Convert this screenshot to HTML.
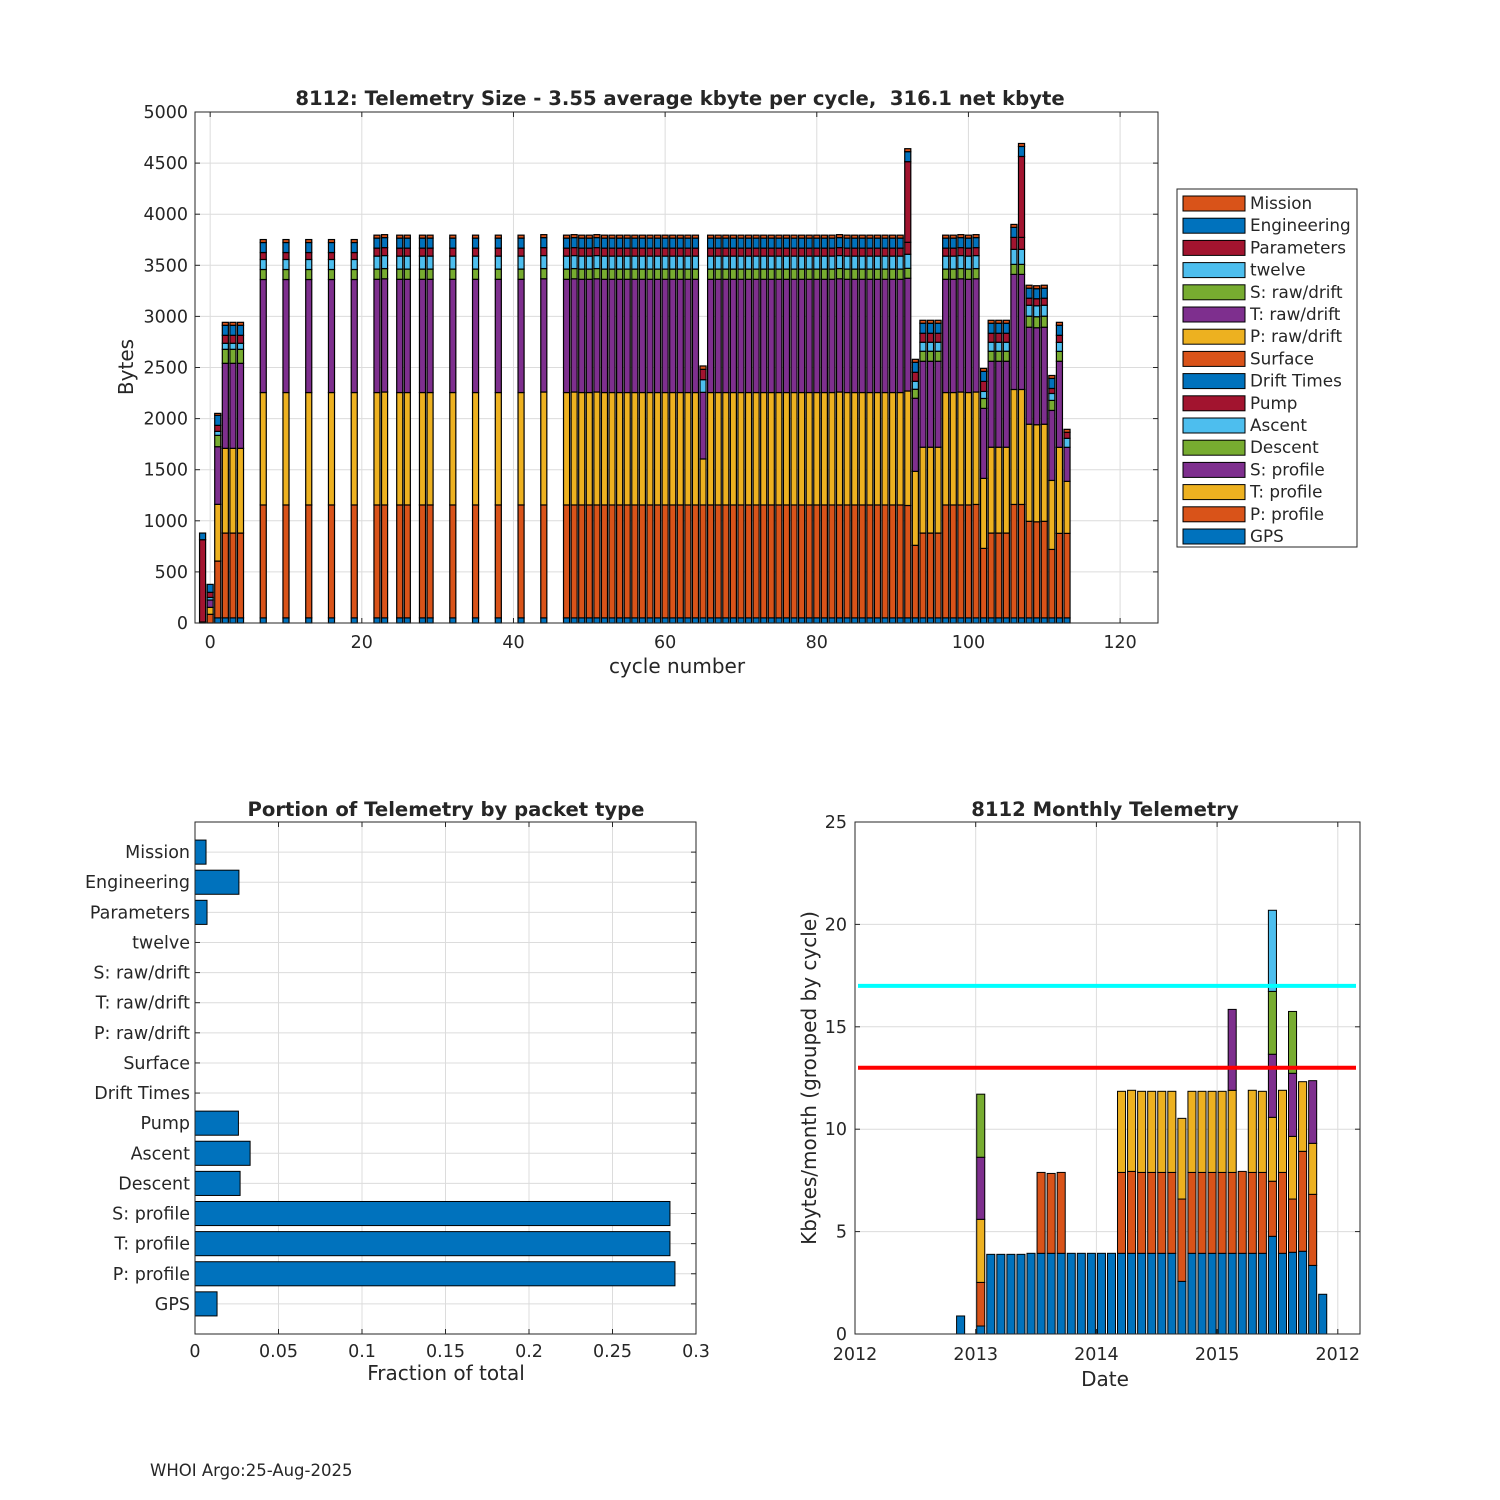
<!DOCTYPE html>
<html><head><meta charset="utf-8"><style>
html,body{margin:0;padding:0;background:#fff}
svg{display:block}
text{font-family:"DejaVu Sans","Liberation Sans",sans-serif;fill:#262626}
</style></head><body>
<svg id="fig" width="1500" height="1500" viewBox="0 0 1500 1500" xmlns="http://www.w3.org/2000/svg">
<rect width="1500" height="1500" fill="#fff"/>
<g id="top"></g>
<g id="bl"></g>
<g id="br"></g>
<text x="150" y="1476" font-size="16.5">WHOI Argo:25-Aug-2025</text>
</svg>
<script>
// ---------- TOP CHART DATA ----------
const cycles = [-1,0,1,2,3,4, 7,10,13,16,19, 22,23,25,26,28,29,32,35,38,41,44,
47,48,49,50,51,52,53,54,55,56,57,58,59,60,61,62,63,64, 65,
66,67,68,69,70,71,72,73,74,75,76,77,78,79,80,81,82,83,84,85,86,87,88,89,90,91,
92,93,94,95,96,97,98,99,100,101,102,103,104,105,106,107,108,109,110,111,112,113];
const gpsVals = [10,0,50,50,50,50, 50,50,50,50,50, 50,50,50,50,50,50,50,50,50,50,50,
50,50,50,50,50,50,50,50,50,50,50,50,50,50,50,50,50,50, 50,
50,50,50,50,50,50,50,50,50,50,50,50,50,50,50,50,50,50,50,50,50,50,50,50,50,50,
50,50,50,50,50,50,50,50,50,50,50,50,50,50,50,50,50,50,50,50,50,50];
const pProfile = [0,85,556,830,830,830, 1105,1105,1105,1105,1105, 1105,1105,1105,1105,1105,1105,1105,1105,1105,1105,1105,
1105,1105,1105,1105,1105,1105,1105,1105,1105,1105,1105,1105,1105,1105,1105,1105,1105,1105, 1105,
1105,1105,1105,1105,1105,1105,1105,1105,1105,1105,1105,1105,1105,1105,1105,1105,1105,1105,1105,1105,1105,1105,1105,1105,1105,1105,
1100,710,830,830,830,1105,1105,1105,1105,1110,680,830,830,830,1110,1110,945,940,945,670,827,827];
const tProfile = [0,68,555,829,829,829, 1100,1100,1100,1100,1100, 1100,1105,1100,1100,1100,1100,1100,1100,1100,1100,1105,
1100,1105,1100,1100,1105,1100,1100,1100,1100,1100,1100,1100,1100,1100,1100,1100,1100,1100, 450,
1100,1100,1100,1100,1100,1100,1100,1100,1100,1100,1100,1100,1100,1100,1100,1100,1100,1105,1100,1100,1100,1100,1100,1100,1100,1100,
1120,724,840,840,840,1100,1100,1105,1100,1100,685,840,840,840,1125,1125,950,950,950,675,842,509];
const sProfile = [0,72,564,832,832,832, 1106,1106,1106,1106,1106, 1108,1108,1108,1108,1108,1108,1108,1108,1108,1108,1108,
1108,1108,1108,1108,1108,1108,1108,1108,1108,1108,1108,1108,1108,1108,1108,1108,1108,1108, 652,
1108,1108,1108,1108,1108,1108,1108,1108,1108,1108,1108,1108,1108,1108,1108,1108,1108,1108,1108,1108,1108,1108,1108,1108,1108,1108,
1103,715,841,841,841,1108,1108,1108,1108,1108,685,841,841,841,1126,1126,949,949,949,685,842,333];
const descentVals = [0,0,111,137,137,137, 98,98,98,98,98, 100,100,100,100,100,100,100,100,100,100,100,
100,100,100,100,100,100,100,100,100,100,100,100,100,100,100,100,100,100, 0,
100,100,100,100,100,100,100,100,100,100,100,100,100,100,100,100,100,100,100,100,100,100,100,100,100,100,
97,88,98,98,98,100,100,100,100,100,97,98,98,98,98,98,108,108,108,98,97,0];
const ascentVals = [0,25,39,59,59,59, 98,98,98,98,98, 127,127,127,127,127,127,127,127,127,127,127,
127,127,127,127,127,127,127,127,127,127,127,127,127,127,127,127,127,127, 124,
127,127,127,127,127,127,127,127,127,127,127,127,127,127,127,127,127,127,127,127,127,127,127,127,127,127,
138,78,88,88,88,127,127,127,127,127,69,88,88,88,147,147,107,107,107,68,88,88];
const pumpVals = [0,50,59,78,78,78, 68,68,68,68,68, 78,78,78,78,78,78,78,78,78,78,78,
78,78,78,78,78,78,78,78,78,78,78,78,78,78,78,78,78,78, 101,
78,78,78,78,78,78,78,78,78,78,78,78,78,78,78,78,78,78,78,78,78,78,78,78,78,78,
117,88,88,88,88,78,78,78,78,78,98,88,88,88,117,117,69,69,69,49,69,59];
const paramVals = [805,0,0,0,0,0, 0,0,0,0,0, 0,0,0,0,0,0,0,0,0,0,0,
0,0,0,0,0,0,0,0,0,0,0,0,0,0,0,0,0,0, 0,
0,0,0,0,0,0,0,0,0,0,0,0,0,0,0,0,0,0,0,0,0,0,0,0,0,0,
789,0,0,0,0,0,0,0,0,0,0,0,0,0,0,792,0,0,0,0,0,0];
const engVals = [65,78,98,98,98,98, 98,98,98,98,98, 98,98,98,98,98,98,98,98,98,98,98,
98,98,98,98,98,98,98,98,98,98,98,98,98,98,98,98,98,98, 0,
98,98,98,98,98,98,98,98,98,98,98,98,98,98,98,98,98,98,98,98,98,98,98,98,98,98,
98,98,98,98,98,98,98,98,98,98,98,98,98,98,98,98,98,98,98,98,98,0];
const missionVals = [0,0,19,29,29,29, 29,29,29,29,29, 29,29,29,29,29,29,29,29,29,29,29,
29,29,29,29,29,29,29,29,29,29,29,29,29,29,29,29,29,29, 33,
29,29,29,29,29,29,29,29,29,29,29,29,29,29,29,29,29,29,29,29,29,29,29,29,29,29,
29,29,29,29,29,29,29,29,29,29,29,29,29,29,29,29,29,29,29,29,29,29];
const seriesNames = ['GPS','P: profile','T: profile','S: profile','Descent','Ascent','Pump','Drift Times','Surface','P: raw/drift','T: raw/drift','S: raw/drift','twelve','Parameters','Engineering','Mission'];
const seriesVals = [gpsVals,pProfile,tProfile,sProfile,descentVals,ascentVals,pumpVals,[],[],[],[],[],[],paramVals,engVals,missionVals];
const yTicksTop = [0,500,1000,1500,2000,2500,3000,3500,4000,4500,5000];
const xTicksTop = [0,20,40,60,80,100,120];

// ---------- BOTTOM LEFT DATA ----------
const packetCats = ['GPS','P: profile','T: profile','S: profile','Descent','Ascent','Pump','Drift Times','Surface','P: raw/drift','T: raw/drift','S: raw/drift','twelve','Parameters','Engineering','Mission'];
const packetFractions = [0.0132,0.2874,0.2844,0.2844,0.027,0.033,0.026,0,0,0,0,0,0,0.0072,0.0263,0.0066];
const xTicksBL = [0,0.05,0.1,0.15,0.2,0.25,0.3];
const xTickLabelsBL = ['0','0.05','0.1','0.15','0.2','0.25','0.3'];

// ---------- BOTTOM RIGHT DATA ----------
const months = [10,12,13,14,15,16,17,18,19,20,21,22,23,24,25,26,27,28,29,30,31,32,33,34,35,36,37,38,39,40,41,42,43,44,45,46];
const mBlue   = [0.88,0.39,3.89,3.89,3.89,3.89,3.94,3.94,3.94,3.94,3.94,3.94,3.94,3.94,3.94,3.94,3.94,3.94,3.94,3.94,3.94,2.57,3.94,3.94,3.94,3.94,3.94,3.94,3.94,3.94,4.77,3.94,3.99,4.04,3.35,1.94];
const mOrange = [0,2.13,0,0,0,0,0,3.95,3.90,3.95,0,0,0,0,0,3.95,4.0,3.95,3.95,3.95,3.95,4.02,3.95,3.95,3.95,3.95,3.95,4.0,3.95,3.95,2.69,3.95,2.60,4.88,3.47,0];
const mYellow = [0,3.08,0,0,0,0,0,0,0,0,0,0,0,0,0,3.96,3.96,3.96,3.96,3.96,3.96,3.94,3.96,3.96,3.96,3.96,4.01,0,4.01,3.96,3.12,4.01,3.06,3.40,2.49,0];
const mPurple = [0,3.03,0,0,0,0,0,0,0,0,0,0,0,0,0,0,0,0,0,0,0,0,0,0,0,0,3.95,0,0,0,3.08,0,3.08,0,3.06,0];
const mGreen  = [0,3.08,0,0,0,0,0,0,0,0,0,0,0,0,0,0,0,0,0,0,0,0,0,0,0,0,0,0,0,0,3.07,0,3.02,0,0,0];
const mLight  = [0,0,0,0,0,0,0,0,0,0,0,0,0,0,0,0,0,0,0,0,0,0,0,0,0,0,0,0,0,0,3.96,0,0,0,0,0];
const thresholds = [17,13];
const yTicksBR = [0,5,10,15,20,25];
const xTickMonthsBR = [0,12,24,36,48];
const xTickLabelsBR = ['2012','2013','2014','2015','2012'];

const COLORS = ['#0072BD','#D95319','#EDB120','#7E2F8E','#77AC30','#4DBEEE','#A2142F'];
const TICK=17.5, AXT=20, TTL=19.6;
const NS='http://www.w3.org/2000/svg';
function mk(parent,tag,attrs,txt){const e=document.createElementNS(NS,tag);for(const k in attrs)e.setAttribute(k,attrs[k]);if(txt!==undefined)e.textContent=txt;parent.appendChild(e);return e;}

// ================= TOP CHART =================
(function(){
const g=document.getElementById('top');
const L=195,R=1158,T=112,B=623;
const xS=c=>L+(c+2)*(R-L)/127;
const yS=v=>B-v*(B-T)/5000;
yTicksTop.forEach(v=>{
  const y=yS(v);
  const gl=mk(g,'line',{x1:L,x2:R,y1:y,y2:y,stroke:'#dcdcdc','stroke-width':1});
  
  
  const t=mk(g,'text',{x:L-7,y:y+6,'font-size':TICK,'text-anchor':'end'},String(v));
  
  
  mk(g,'line',{x1:L,x2:L+5,y1:y,y2:y,stroke:'#262626'});
  mk(g,'line',{x1:R,x2:R-5,y1:y,y2:y,stroke:'#262626'});
});
xTicksTop.forEach(v=>{
  const x=xS(v);
  const gl=mk(g,'line',{x1:x,x2:x,y1:T,y2:B,stroke:'#dcdcdc','stroke-width':1});
  
  
  const t=mk(g,'text',{x:x,y:B+25,'font-size':TICK,'text-anchor':'middle'},String(v));
  
  
  mk(g,'line',{x1:x,x2:x,y1:B,y2:B-5,stroke:'#262626'});
  mk(g,'line',{x1:x,x2:x,y1:T,y2:T+5,stroke:'#262626'});
});
const bw=(R-L)/127*0.8;
cycles.forEach((c,i)=>{
  let cum=0;
  seriesVals.forEach((arr,s)=>{
    const h=arr[i]||0;
    if(h<=0)return;
    const r=mk(g,'rect',{x:xS(c)-bw/2,y:yS(cum+h),width:bw,height:yS(cum)-yS(cum+h),fill:COLORS[s%7],stroke:'#000','stroke-width':1.2});
    
    
    cum+=h;
  });
});
const box=mk(g,'rect',{x:L,y:T,width:R-L,height:B-T,fill:'none',stroke:'#262626','stroke-width':1});


const ti=mk(g,'text',{x:680,y:105,'font-size':TTL,'font-weight':'bold','text-anchor':'middle','xml:space':'preserve'},'8112: Telemetry Size - 3.55 average kbyte per cycle,\u00a0 316.1 net kbyte');


const xl=mk(g,'text',{x:677,y:673,'font-size':AXT,'text-anchor':'middle'},'cycle number');


const yl=mk(g,'text',{x:0,y:0,'font-size':AXT,'text-anchor':'middle',transform:'translate(133,367) rotate(-90)'},'Bytes');


// legend
const lg=mk(g,'g',{});


mk(lg,'rect',{x:1177,y:189,width:180,height:358,fill:'#fff',stroke:'#262626','stroke-width':1});
for(let k=0;k<16;k++){
  const s=15-k;
  const cy=203+k*22.2;
  const e=mk(lg,'g',{});
  
  
  mk(e,'rect',{x:1183,y:cy-7,width:62,height:15,fill:COLORS[s%7],stroke:'#000','stroke-width':1});
  mk(e,'text',{x:1250,y:cy+6,'font-size':16.8},seriesNames[s]);
}
})();

// ================= BOTTOM LEFT =================
(function(){
const g=document.getElementById('bl');
const L=195,R=696,T=822,B=1334;
const xS=v=>L+v*(R-L)/0.3;
const yS=k=>B-k*(B-T)/17;
xTicksBL.forEach((v,i)=>{
  const x=xS(v);
  const gl=mk(g,'line',{x1:x,x2:x,y1:T,y2:B,stroke:'#dcdcdc'});
  
  
  mk(g,'line',{x1:x,x2:x,y1:B,y2:B-5,stroke:'#262626'});
  mk(g,'line',{x1:x,x2:x,y1:T,y2:T+5,stroke:'#262626'});
  const t=mk(g,'text',{x:x,y:B+23,'font-size':TICK,'text-anchor':'middle'},xTickLabelsBL[i]);
  
  
});
packetCats.forEach((c,i)=>{
  const y=yS(i+1);
  const gl=mk(g,'line',{x1:L,x2:R,y1:y,y2:y,stroke:'#dcdcdc'});
  
  
  mk(g,'line',{x1:L,x2:L+5,y1:y,y2:y,stroke:'#262626'});
  mk(g,'line',{x1:R,x2:R-5,y1:y,y2:y,stroke:'#262626'});
  const t=mk(g,'text',{x:L-5,y:y+6,'font-size':TICK,'text-anchor':'end'},c);
  
  
  const v=packetFractions[i];
  if(v>0){
    const h=(B-T)/17*0.8;
    const r=mk(g,'rect',{x:xS(0),y:y-h/2,width:xS(v)-xS(0),height:h,fill:'#0072BD',stroke:'#000','stroke-width':1});
    
    
  }
});
const box=mk(g,'rect',{x:L,y:T,width:R-L,height:B-T,fill:'none',stroke:'#262626'});


const ti=mk(g,'text',{x:446,y:816,'font-size':TTL,'font-weight':'bold','text-anchor':'middle'},'Portion of Telemetry by packet type');


const xl=mk(g,'text',{x:446,y:1380,'font-size':AXT,'text-anchor':'middle'},'Fraction of total');


})();

// ================= BOTTOM RIGHT =================
(function(){
const g=document.getElementById('br');
const L=855,R=1360,T=822,B=1334;
const mw=120.7/12;
const xS=m=>L+m*mw;
const yS=v=>B-v*(B-T)/25;
yTicksBR.forEach(v=>{
  const y=yS(v);
  const gl=mk(g,'line',{x1:L,x2:R,y1:y,y2:y,stroke:'#dcdcdc'});
  
  
  mk(g,'line',{x1:L,x2:L+5,y1:y,y2:y,stroke:'#262626'});
  mk(g,'line',{x1:R,x2:R-5,y1:y,y2:y,stroke:'#262626'});
  const t=mk(g,'text',{x:L-8,y:y+6,'font-size':TICK,'text-anchor':'end'},String(v));
  
  
});
xTickMonthsBR.forEach((m,i)=>{
  const x=xS(m);
  const gl=mk(g,'line',{x1:x,x2:x,y1:T,y2:B,stroke:'#dcdcdc'});
  
  
  mk(g,'line',{x1:x,x2:x,y1:B,y2:B-5,stroke:'#262626'});
  mk(g,'line',{x1:x,x2:x,y1:T,y2:T+5,stroke:'#262626'});
  const t=mk(g,'text',{x:x,y:B+26,'font-size':TICK,'text-anchor':'middle'},xTickLabelsBR[i]);
  
  
});
const stacks=[mBlue,mOrange,mYellow,mPurple,mGreen,mLight];
const bw=mw*0.8;
months.forEach((m,i)=>{
  let cum=0;
  stacks.forEach((arr,s)=>{
    const h=arr[i];
    if(h<=0)return;
    const r=mk(g,'rect',{x:xS(m+0.5)-bw/2,y:yS(cum+h),width:bw,height:yS(cum)-yS(cum+h),fill:COLORS[s],stroke:'#000','stroke-width':1});
    
    
    cum+=h;
  });
});
const tcol=['#00FFFF','#FF0000'];
thresholds.forEach((v,i)=>{
  const ln=mk(g,'line',{x1:858,x2:1356,y1:yS(v),y2:yS(v),stroke:tcol[i],'stroke-width':4});
  
  
});
const box=mk(g,'rect',{x:L,y:T,width:R-L,height:B-T,fill:'none',stroke:'#262626'});


const ti=mk(g,'text',{x:1105,y:816,'font-size':TTL,'font-weight':'bold','text-anchor':'middle'},'8112 Monthly Telemetry');


const xl=mk(g,'text',{x:1105,y:1386,'font-size':AXT,'text-anchor':'middle'},'Date');


const yl=mk(g,'text',{x:0,y:0,'font-size':AXT,'text-anchor':'middle',transform:'translate(816,1078) rotate(-90)'},'Kbytes/month (grouped by cycle)');


})();
</script>
</body></html>
